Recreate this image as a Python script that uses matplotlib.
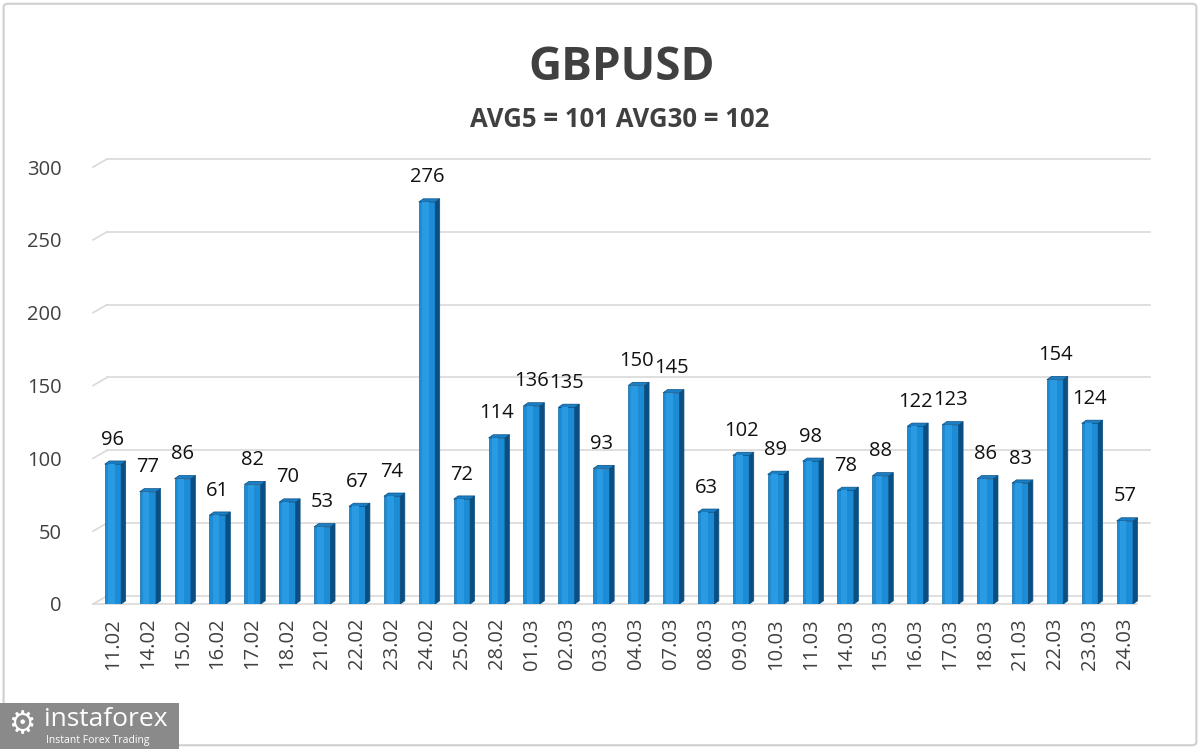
import numpy as np
import matplotlib.pyplot as plt
from matplotlib.patches import Polygon, Rectangle, FancyBboxPatch

# === data ===
dates = ["11.02", "14.02", "15.02", "16.02", "17.02", "18.02", "21.02", "22.02",
         "23.02", "24.02", "25.02", "28.02", "01.03", "02.03", "03.03", "04.03",
         "07.03", "08.03", "09.03", "10.03", "11.03", "14.03", "15.03", "16.03",
         "17.03", "18.03", "21.03", "22.03", "23.03", "24.03"]
values = [96, 77, 86, 61, 82, 70, 53, 67, 74, 276, 72, 114, 136, 135, 93, 150,
          145, 63, 102, 89, 98, 78, 88, 122, 123, 86, 83, 154, 124, 57]
title = "GBPUSD"
subtitle = "AVG5 = 101 AVG30 = 102"
yticks = [0, 50, 100, 150, 200, 250, 300]

plt.rcParams['font.family'] = ['Open Sans', 'DejaVu Sans']
txt = '#404040'

fig = plt.figure(figsize=(12, 7.49), dpi=100)
ax = fig.add_axes([0.079, 0.1936, 0.879, 0.5834])

x = np.arange(len(values))
w = 0.47      # front face width
side = 0.13   # side face depth
lift = 2.2    # top face height (data units)
x0 = -0.52
back = 5.5    # back wall offset (data units)

# gridlines on the back wall, with the slanted floor edge at the left
for t in yticks:
    ax.plot([x0 + 0.35, 29.71], [t + back, t + back], color='#d9d9d9', lw=1.2,
            zorder=0, clip_on=False)
    ax.plot([x0 - 0.05, x0 + 0.35], [t, t + back], color='#d9d9d9', lw=1.2,
            zorder=0, clip_on=False)
ax.plot([x0 - 0.05, 29.35], [0, 0], color='#d9d9d9', lw=1.2, zorder=0, clip_on=False)

ax.bar(x, values, width=w, color='#1c8cd6', edgecolor='#11669f', lw=0.5, zorder=2)
# soft light stripe for the glossy look
ax.bar(x - w * 0.1, values, width=w * 0.4, color='#2a9be3', lw=0, zorder=3)

for xi, v in zip(x, values):
    l, r = xi - w / 2, xi + w / 2
    # side face
    ax.add_patch(Polygon([(r, 0), (r + side, lift), (r + side, v + lift), (r, v)],
                         closed=True, fc='#0b4f82', ec='#0b4f82', lw=0.5, zorder=2))
    # top face
    ax.add_patch(Polygon([(l, v), (l + side, v + lift), (r + side, v + lift), (r, v)],
                         closed=True, fc='#1a7fc4', ec='#0b4f82', lw=0.5, zorder=2))
    ax.text(xi, v + 10, str(v), ha='center', va='bottom', fontsize=14.5, color='#111111')

ax.set_xlim(x0, 29.71)
ax.set_ylim(0, 300)
ax.set_yticks(yticks)
ax.set_yticklabels([str(t) for t in yticks], fontsize=14.5, color=txt)
ax.set_xticks(x)
ax.set_xticklabels(dates, rotation=90, fontsize=14.5, color=txt)
ax.tick_params(length=0)
ax.tick_params(axis='x', pad=10)
ax.tick_params(axis='y', pad=24)
for s in ax.spines.values():
    s.set_visible(False)

fig.text(0.518, 0.910, title, ha='center', va='center', fontsize=33,
         fontweight='bold', color=txt)
fig.text(0.516, 0.841, subtitle, ha='center', va='center', fontsize=18.5,
         fontweight='bold', color=txt)

# border around the picture
fig.patches.append(FancyBboxPatch((0.003, 0.005), 0.994, 0.99,
                                  boxstyle='round,pad=0,rounding_size=0.004',
                                  transform=fig.transFigure, fill=False,
                                  ec='#cfcfcf', lw=1.5))

# logo
fig.patches.append(Rectangle((0.0, 0.0), 0.149, 0.062, transform=fig.transFigure,
                             fc='#8a8a8a', ec='none', zorder=5))
fig.text(0.018, 0.032, "\u2699", fontsize=22, color='white', ha='center',
         va='center', zorder=6, family='DejaVu Sans')
fig.text(0.037, 0.040, "instaforex", fontsize=19, color='white', ha='left',
         va='center', zorder=6)
fig.text(0.038, 0.012, "Instant Forex Trading", fontsize=7.5, color='white',
         ha='left', va='center', zorder=6)

fig.savefig('out.png', dpi=100)
